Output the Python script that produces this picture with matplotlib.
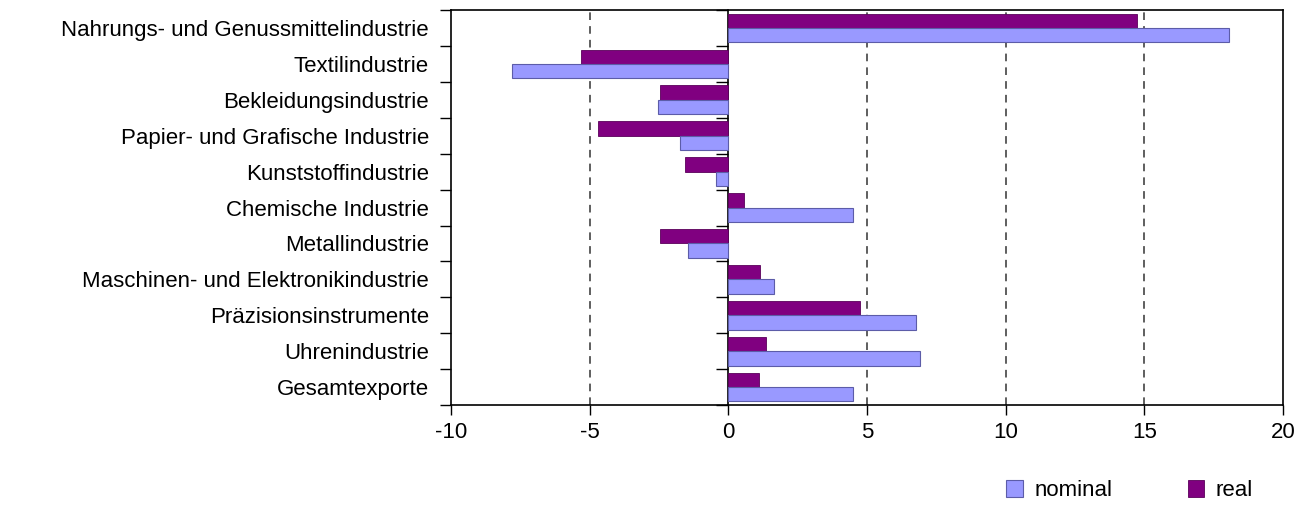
import numpy as np
import matplotlib.pyplot as plt

plt.rcParams['font.family'] = ['Liberation Sans', 'DejaVu Sans']

categories = [
    "Nahrungs- und Genussmittelindustrie",
    "Textilindustrie",
    "Bekleidungsindustrie",
    "Papier- und Grafische Industrie",
    "Kunststoffindustrie",
    "Chemische Industrie",
    "Metallindustrie",
    "Maschinen- und Elektronikindustrie",
    "Präzisionsinstrumente",
    "Uhrenindustrie",
    "Gesamtexporte",
]
nominal = [18.05, -7.8, -2.55, -1.75, -0.45, 4.5, -1.45, 1.65, 6.75, 6.9, 4.5]
real = [14.75, -5.3, -2.45, -4.7, -1.55, 0.55, -2.45, 1.15, 4.75, 1.35, 1.1]

xticks = [-10, -5, 0, 5, 10, 15, 20]

fig = plt.figure(figsize=(13.15, 5.05), dpi=100)
ax = fig.add_axes([0.343, 0.198, 0.6327, 0.782])

y = np.arange(len(categories))
h = 0.4
ax.barh(y - h / 2, real, height=h, color="#800080", edgecolor="#5a005a",
        linewidth=0.6, label="real", zorder=3)
ax.barh(y + h / 2, nominal, height=h, color="#9999FF", edgecolor="#5c5ca8",
        linewidth=0.8, label="nominal", zorder=3)

ax.set_xlim(-10, 20)
ax.set_ylim(len(categories) - 0.5, -0.5)
ax.set_xticks(xticks)
ax.set_xticklabels([str(v) for v in xticks], fontsize=16)
ax.tick_params(axis="x", direction="out", length=7, width=1, pad=5)

ax.set_yticks(y)
ax.set_yticklabels(categories, fontsize=16)
ax.set_yticks(np.arange(len(categories) + 1) - 0.5, minor=True)
ax.tick_params(axis="y", which="major", length=0, pad=16)
ax.tick_params(axis="y", which="minor", direction="out", length=8, width=1)

for v in [-5, 5, 10, 15]:
    ax.axvline(v, color="#333333", linestyle=(0, (5, 4)), linewidth=1.1, zorder=1)

# category axis crossing at zero
zero_ax = ax.secondary_yaxis(10 / 30)
zero_ax.set_yticks(np.arange(len(categories) + 1) - 0.5)
zero_ax.set_yticklabels([])
zero_ax.tick_params(axis="y", direction="out", length=9, width=1)
zero_ax.yaxis.set_ticks_position("left")
zero_ax.spines["left"].set_linewidth(1.2)

for s in ax.spines.values():
    s.set_linewidth(1.2)

handles, labels = ax.get_legend_handles_labels()
fig.legend(handles[::-1], labels[::-1], loc="center", ncol=2, frameon=False,
           fontsize=16, bbox_to_anchor=(0.859, 0.028), handlelength=0.75,
           handleheight=0.75, handletextpad=0.5, columnspacing=3.4)

fig.savefig("out.png", dpi=100)
